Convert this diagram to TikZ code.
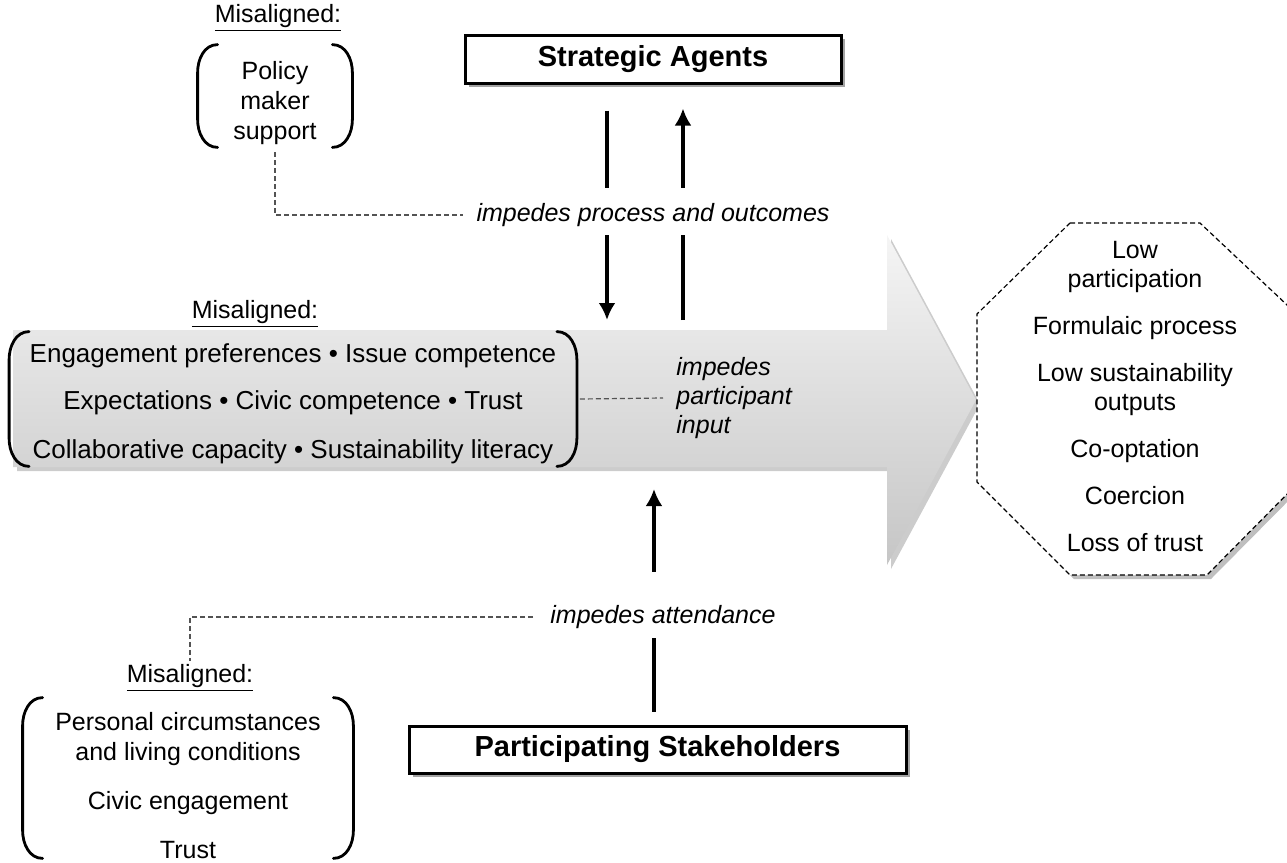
\documentclass[tikz,border=0pt]{standalone}
\usepackage{fontspec}
\setmainfont{Liberation Sans}
\usepackage{tikz}
\usetikzlibrary{arrows.meta,shadows,calc,positioning}
\tikzstyle{txt} = [font=\fontsize{12.5}{14.5}\selectfont, align=center, inner sep=0pt]
\tikzstyle{lab} = [txt, font=\fontsize{12.5}{14.5}\selectfont\itshape]
\tikzstyle{frame} = [rectangle, inner sep=0pt]
\tikzstyle{agent} = [rectangle, draw=black, line width=1.5pt, fill=white, inner sep=0pt, font=\fontsize{14.5}{17}\selectfont\bfseries, drop shadow={shadow xshift=2pt, shadow yshift=-2pt, fill=black!60, opacity=0.6}]
\tikzstyle{brk} = [line width=1.4pt, line cap=round]
\tikzstyle{link} = [dash pattern=on 2.5pt off 1.5pt, draw=gray!65!black, line width=0.6pt]
\tikzstyle{flow} = [line width=2.2pt,-{Latex[length=8.5pt,width=8.5pt]}]
\tikzstyle{flowline} = [line width=2.2pt]
\tikzstyle{bigarrow} = [top color=gray!8, bottom color=gray!45, drop shadow={shadow xshift=2pt, shadow yshift=-2pt, fill=black!40, opacity=0.5}]
\tikzstyle{octa} = [draw=black, dash pattern=on 2.5pt off 1.5pt, line width=0.6pt, fill=white, drop shadow={shadow xshift=2pt, shadow yshift=-2pt, fill=black!50, opacity=0.5}]

\begin{document}
\begin{tikzpicture}[x=0.5pt,y=-0.5pt]
\useasboundingbox (0,0) rectangle (1287,863);

% band arrow and outcomes
\path[bigarrow] (13,330) -- (887,330) -- (887,235) -- (976,400) -- (887,565) -- (887,467) -- (13,467) -- cycle;
\coordinate (bandN) at (0,330);
\coordinate (bandS) at (0,467);
\draw[octa] (1070,223) -- (1200,223) -- (1303,320) -- (1303,478) -- (1207,575) -- (1070,575) -- (977,482) -- (977,314) -- cycle;
\node[txt] (outc) at (1135,397) {Low\\participation\\[9pt]Formulaic process\\[9pt]Low sustainability\\outputs\\[9pt]Co-optation\\[9pt]Coercion\\[9pt]Loss of trust};

% top
\node[txt] (mis1) at (278,18) {\underline{Misaligned:}};
\node[frame, minimum width=77pt, minimum height=51pt] (polb) at (275,96) {};
\node[txt, font=\fontsize{12.5}{15}\selectfont] (pol) at (275,103) {Policy\\maker\\support};
\node[agent, minimum width=188pt, minimum height=24pt] (agents) at (653,59) {Strategic Agents};
\node[lab] (pimp) at (653,215) {impedes process and outcomes};

% middle
\node[txt] (mis2) at (255,314) {\underline{Misaligned:}};
\node[frame, minimum width=283.5pt, minimum height=67pt] (midb) at (293,399) {};
\node[txt, font=\fontsize{13}{14.5}\selectfont] (mid) at (293,404) {Engagement preferences • Issue competence\\[9pt]Expectations • Civic competence • Trust\\[10pt]Collaborative capacity • Sustainability literacy};
\node[lab, align=left, anchor=west] (pinp) at (676,398) {impedes\\participant\\input};

% bottom
\node[lab] (patt) at (663,617) {impedes attendance};
\node[agent, minimum width=248.5pt, minimum height=23.5pt] (stake) at (657.5,749.5) {Participating Stakeholders};
\node[txt] (mis3) at (190,678) {\underline{Misaligned:}};
\node[frame, minimum width=165pt, minimum height=80pt] (persb) at (188,778) {};
\node[txt, font=\fontsize{12.5}{15}\selectfont] (pers) at (188,786) {Personal circumstances\\and living conditions\\[9.5pt]Civic engagement\\[9.5pt]Trust};

% brackets
\draw[brk] ([xshift=10pt]polb.north west) to[out=180,in=90] ([yshift=-14pt]polb.north west) -- ([yshift=14pt]polb.south west) to[out=-90,in=180] ([xshift=10pt]polb.south west);
\draw[brk] ([xshift=-10pt]polb.north east) to[out=0,in=90] ([yshift=-14pt]polb.north east) -- ([yshift=14pt]polb.south east) to[out=-90,in=0] ([xshift=-10pt]polb.south east);
\draw[brk] ([xshift=10pt]midb.north west) to[out=180,in=90] ([yshift=-14pt]midb.north west) -- ([yshift=14pt]midb.south west) to[out=-90,in=180] ([xshift=10pt]midb.south west);
\draw[brk] ([xshift=-10pt]midb.north east) to[out=0,in=90] ([yshift=-14pt]midb.north east) -- ([yshift=14pt]midb.south east) to[out=-90,in=0] ([xshift=-10pt]midb.south east);
\draw[brk] ([xshift=10pt]persb.north west) to[out=180,in=90] ([yshift=-14pt]persb.north west) -- ([yshift=14pt]persb.south west) to[out=-90,in=180] ([xshift=10pt]persb.south west);
\draw[brk] ([xshift=-10pt]persb.north east) to[out=0,in=90] ([yshift=-14pt]persb.north east) -- ([yshift=14pt]persb.south east) to[out=-90,in=0] ([xshift=-10pt]persb.south east);

% flow arrows
\coordinate (dnx) at (607,0);
\coordinate (upx) at (683,0);
\coordinate (upb) at (654,0);
\draw[flowline] ($(agents.south -| dnx)+(0,26)$) -- ($(pimp.north -| dnx)+(0,-15)$);
\draw[flow] ($(pimp.south -| dnx)+(0,8)$) -- ($(bandN -| dnx)+(0,-10)$);
\draw[flowline] ($(bandN -| upx)+(0,-10)$) -- ($(pimp.south -| upx)+(0,8)$);
\draw[flow] ($(pimp.north -| upx)+(0,-15)$) -- ($(agents.south -| upx)+(0,24)$);
\draw[flow] ($(patt.north -| upb)+(0,-33)$) -- ($(bandS -| upb)+(0,22)$);
\draw[flowline] ($(patt.south -| upb)+(0,9)$) -- ($(stake.north -| upb)+(0,-13)$);

% dashed links
\draw[link] ($(polb.south)+(0,5)$) |- ($(pimp.west)+(-13,0)$);
\draw[link] ($(midb.east)+(3,0)$) -- ($(pinp.west)+(-13,0)$);
\draw[link] ($(patt.west)+(-17,0)$) -| ($(mis3.north)+(0,-3)$);
\end{tikzpicture}
\end{document}
